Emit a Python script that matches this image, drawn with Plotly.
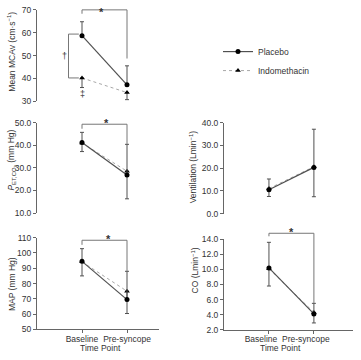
import plotly.graph_objects as go

# ---------------- data ----------------
time_points = ["Baseline", "Pre-syncope"]
x_pos = [1, 2]
series_names = ["Placebo", "Indomethacin"]

mcav_placebo = [58.7, 37.2]
mcav_placebo_err = [6.1, 8.3]
mcav_indo = [40.2, 33.8]
mcav_indo_err = [4.2, 3.1]

petco2_placebo = [41.2, 26.8]
petco2_placebo_err = [4.5, 13.6]
petco2_indo = [41.0, 28.5]
petco2_indo_err = [3.8, 12.2]

map_placebo = [94.5, 69.5]
map_placebo_err = [8.3, 18.5]
map_indo = [94.2, 75.0]
map_indo_err = [9.2, 14.6]

vent_placebo = [10.5, 20.3]
vent_placebo_err = [4.7, 16.8]
vent_indo = [11.0, 20.6]
vent_indo_err = [3.5, 13.2]

co_placebo = [10.2, 4.1]
co_placebo_err = [3.4, 1.4]
co_indo = [10.1, 4.3]
co_indo_err = [2.3, 1.4]

# ---------------- layout helpers ----------------
W, H = 361, 360
FONT = "Liberation Sans, Arial, sans-serif"
TXT = "#333333"
AX = "#666666"
DARK = "#505050"
LIGHT = "#a8a8a8"

def xd(l, r):
    return [l / W, r / W]

def yd(top, bot):
    return [1 - bot / H, 1 - top / H]

LEFT = xd(37, 158.5)
RIGHT = xd(224, 353)
panels = {
    "": dict(xd=LEFT, xr=[0, 2.7], yd=yd(5, 99), yr=[30, 70], dt=10, fmt="d"),
    "2": dict(xd=LEFT, xr=[0, 2.7], yd=yd(121, 214), yr=[10, 50], dt=10, fmt=".1f"),
    "3": dict(xd=LEFT, xr=[0, 2.7], yd=yd(239.3, 333.7), yr=[50, 110], dt=10, fmt="d"),
    "4": dict(xd=RIGHT, xr=[0, 2.87], yd=yd(121, 214.5), yr=[0, 40], dt=10, fmt=".1f"),
    "5": dict(xd=RIGHT, xr=[0, 2.87], yd=yd(241, 334), yr=[2, 14], dt=2, fmt=".1f"),
}

def px(p, x):
    P = panels[p]
    return P["xd"][0] + (x - P["xr"][0]) / (P["xr"][1] - P["xr"][0]) * (P["xd"][1] - P["xd"][0])

def py(p, y):
    P = panels[p]
    return P["yd"][0] + (y - P["yr"][0]) / (P["yr"][1] - P["yr"][0]) * (P["yd"][1] - P["yd"][0])

fig = go.Figure()

def add_pair(p, plac, plac_err, indo, indo_err, legend=False):
    ax = dict(xaxis="x" + p, yaxis="y" + p)
    fig.add_trace(go.Scatter(
        x=x_pos, y=indo, name=series_names[1], mode="lines+markers",
        line=dict(color=LIGHT, width=1, dash="dot"),
        marker=dict(symbol="triangle-up", size=5, color="black"),
        error_y=dict(type="data", symmetric=False, array=[0, 0], arrayminus=indo_err,
                     color=DARK, thickness=1, width=2),
        showlegend=legend, legendrank=2, **ax))
    fig.add_trace(go.Scatter(
        x=x_pos, y=plac, name=series_names[0], mode="lines+markers",
        line=dict(color=DARK, width=1.2),
        marker=dict(symbol="circle", size=5, color="black"),
        error_y=dict(type="data", symmetric=False, array=plac_err, arrayminus=[0, 0],
                     color=DARK, thickness=1, width=2),
        showlegend=legend, legendrank=1, **ax))

add_pair("", mcav_placebo, mcav_placebo_err, mcav_indo, mcav_indo_err, legend=True)
add_pair("2", petco2_placebo, petco2_placebo_err, petco2_indo, petco2_indo_err)
add_pair("3", map_placebo, map_placebo_err, map_indo, map_indo_err)
add_pair("4", vent_placebo, vent_placebo_err, vent_indo, vent_indo_err)
add_pair("5", co_placebo, co_placebo_err, co_indo, co_indo_err)

layout = {}
for p, P in panels.items():
    bottom = p in ("3", "5")
    layout["xaxis" + p] = dict(
        domain=P["xd"], range=P["xr"], anchor="y" + p, showgrid=False, zeroline=False,
        showline=bottom, linecolor=AX, linewidth=1,
        ticks="outside" if bottom else "", ticklen=3, tickcolor=AX,
        tickvals=x_pos, ticktext=time_points, showticklabels=bottom,
        tickfont=dict(family=FONT, size=8.5, color=TXT),
        ticklabelstandoff=-2,
        ticklabelshift=-8 if p == "5" else 0)
    layout["yaxis" + p] = dict(
        domain=P["yd"], range=P["yr"], anchor="x" + p, showgrid=False, zeroline=False,
        showline=True, linecolor=AX, linewidth=1, ticks="outside", ticklen=3,
        tickcolor=AX, tick0=P["yr"][0], dtick=P["dt"], tickformat=P["fmt"],
        tickfont=dict(family=FONT, size=8.5, color=TXT))

shapes = []
annotations = []

def seg(p, x0, y0, x1, y1, color="#777777"):
    shapes.append(dict(type="line", xref="paper", yref="paper",
                       x0=px(p, x0), y0=py(p, y0), x1=px(p, x1), y1=py(p, y1),
                       line=dict(color=color, width=1)))

def bracket(p, ytop, yleft, yright, star_x, star_dy):
    seg(p, 1, ytop, 2, ytop)
    seg(p, 1, ytop, 1, yleft)
    seg(p, 2, ytop, 2, yright)
    annotations.append(dict(text="<b>*</b>", xref="paper", yref="paper",
                            x=px(p, star_x), y=py(p, ytop), xanchor="center", yanchor="middle",
                            yshift=star_dy, showarrow=False,
                            font=dict(family=FONT, size=11, color=TXT)))

bracket("", 70, 68.3, 48.7, 1.44, -2)
bracket("2", 49.3, 47.3, petco2_placebo[1] + petco2_placebo_err[1], 1.55, 1)
bracket("3", 108.3, 105.3, map_placebo[1] + map_placebo_err[1], 1.58, 1)
bracket("5", 14.8, 14.4, co_placebo[1] + co_placebo_err[1], 1.5, 1)

# dagger bracket between treatments at baseline (panel 1)
seg("", 0.70, 59.4, 0.70, 40.2)
seg("", 0.70, 59.4, 0.93, 59.4)
seg("", 0.70, 40.2, 0.93, 40.2)
annotations.append(dict(text="†", xref="paper", yref="paper", x=px("", 0.6), y=py("", 49.6),
                        showarrow=False, xanchor="center", yanchor="middle",
                        font=dict(family=FONT, size=9, color=TXT)))
annotations.append(dict(text="‡", xref="paper", yref="paper", x=px("", 1.0), y=py("", 33.0),
                        showarrow=False, xanchor="center", yanchor="middle",
                        font=dict(family=FONT, size=9, color=TXT)))

def ytitle(text, xpix, ypix):
    annotations.append(dict(text=text, xref="paper", yref="paper", x=xpix / W, y=1 - ypix / H,
                            textangle=-90, showarrow=False, xanchor="center", yanchor="middle",
                            font=dict(family=FONT, size=8.5, color=TXT)))

ytitle("Mean MCAv (cm·s<sup>−1</sup>)", 12, 48)
ytitle("<i>P</i><sub>ET,CO₂</sub> (mm Hg)", 12, 160)
ytitle("MAP (mm Hg)", 12, 287)
ytitle("Ventilation (Lmin<sup>−1</sup>)", 193, 167)
ytitle("CO (Lmin<sup>−1</sup>)", 195, 273)

for xc in (100, 280):
    annotations.append(dict(text="Time Point", xref="paper", yref="paper", x=xc / W, y=0,
                            showarrow=False, xanchor="center", yanchor="bottom",
                            font=dict(family=FONT, size=8.5, color=TXT)))

fig.update_layout(
    width=W, height=H, margin=dict(l=0, r=0, t=0, b=0),
    paper_bgcolor="white", plot_bgcolor="white",
    shapes=shapes, annotations=annotations,
    legend=dict(x=218 / W, y=1 - 33 / H, xanchor="left", yanchor="top",
                bgcolor="rgba(0,0,0,0)", font=dict(family=FONT, size=8.5, color=TXT),
                traceorder="normal"),
    **layout)

fig.write_html("out.html", config={"displayModeBar": False},
               post_script="document.body.style.margin='0px';")
